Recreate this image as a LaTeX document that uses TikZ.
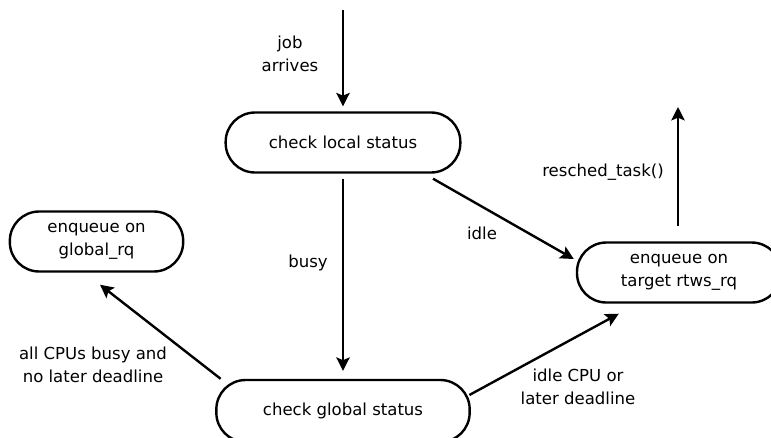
\documentclass[tikz,border=0pt]{standalone}
\usepackage{fontspec}
\setmainfont{DejaVu Sans}
\usetikzlibrary{arrows.meta,calc}
\begin{document}
\begin{tikzpicture}[
    x=0.75pt, y=-0.75pt,
    every node/.style={font=\fontsize{12.4}{17}\selectfont},
    stadium/.style={draw, line width=1.8pt, rounded corners=22pt,
      align=center, inner sep=0pt, minimum height=45pt},
    flow/.style={-{Stealth[length=10pt,width=10pt,inset=2pt]}, line width=1.8pt},
    lbl/.style={align=center, inner sep=0pt}
  ]
  \useasboundingbox (0,0) rectangle (771,437);

  % states
  \node[stadium, minimum width=176pt] (local) at (343,142.5) {check local status};
  \node[stadium, minimum width=190pt, minimum height=46.5pt] (global) at (343,411) {check global status};
  \node[stadium, minimum width=130pt] (globalrq) at (96.5,241.5) {enqueue on\\global\_rq};
  \node[stadium, minimum width=153pt] (target) at (679,272.5) {enqueue on\\target rtws\_rq};

  % free ends
  \coordinate (entry) at (343,10);
  \coordinate (exit) at (678,107);

  % transitions
  \draw[flow] (entry) -- ($(local.north)+(0,-5)$);
  \draw[flow] ($(local.south)+(0,5)$) -- ($(global.north)+(0,-8)$);
  \draw[flow] ($(local.south east)+(-28.5,5)$) -- ($(target.west)+(-2,-13.5)$);
  \draw[flow] ($(global.east)+(-1.5,-16)$) -- ($(target.south west)+(43,10)$);
  \draw[flow] ($(global.north west)+(5.5,0)$) -- ($(globalrq.south)+(3.5,12)$);
  \draw[flow] ($(target.north)+(-1,-15)$) -- (exit);

  % labels
  \node[lbl] (arrives) at (290,53.5) {job\\arrives};
  \node[lbl] (busy) at (308,263) {busy};
  \node[lbl] (idle) at (482,233) {idle};
  \node[lbl] (later) at (578,386.5) {idle CPU or\\later deadline};
  \node[lbl] (nolater) at (93,365) {all CPUs busy and\\no later deadline};
  \node[lbl] (resched) at (603,172) {resched\_task()};
\end{tikzpicture}
\end{document}
